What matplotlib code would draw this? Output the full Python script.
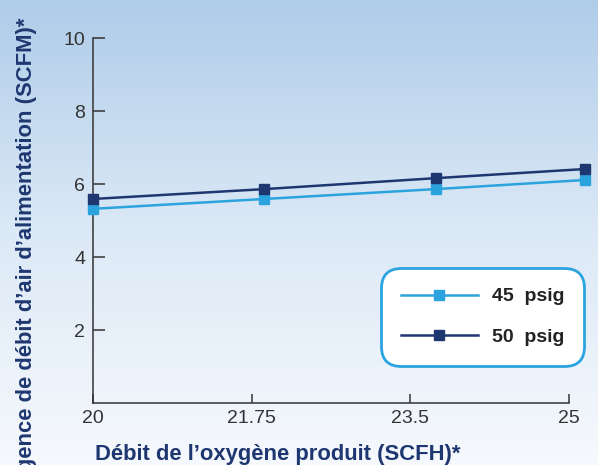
import matplotlib
matplotlib.use("Agg")
import matplotlib.pyplot as plt
import numpy as np
from matplotlib.colors import LinearSegmentedColormap

# tick labels on the x axis (equally spaced categories)
x_labels = ["20", "21.75", "23.5", "25"]
# where the measured points sit, in category units
x_pos = [0, 1.08, 2.16, 3.1]

psig45 = [5.32, 5.59, 5.86, 6.11]
psig50 = [5.59, 5.86, 6.16, 6.41]

light = "#2ba3de"
dark = "#1e3770"
grey = "#333333"

plt.rcParams['font.family'] = ['Liberation Sans', 'DejaVu Sans']

fig = plt.figure(figsize=[5.98, 4.65], dpi=100)

# background gradient, light blue at the top fading to white
bg = fig.add_axes([0, 0, 1, 1], zorder=-10)
grad = np.linspace(0, 1, 256).reshape(-1, 1)
cm = LinearSegmentedColormap.from_list("bg", ["#afcce9", "#dce9f6", "#f6f9fd"])
bg.imshow(grad, aspect="auto", cmap=cm, extent=[0, 1, 0, 1])
bg.axis("off")

ax = fig.add_axes([93/598, 1-403/465, (569-93)/598, (403-38)/465])
ax.patch.set_alpha(0)

ax.plot(x_pos, psig45, color=light, lw=1.8, marker="s", ms=6.5, clip_on=False,
        label="45  psig", zorder=3)
ax.plot(x_pos, psig50, color=dark, lw=1.8, marker="s", ms=6.5, clip_on=False,
        label="50  psig", zorder=3)

ax.set_xlim(0, 3)
ax.set_ylim(0, 10)
ax.set_xticks(range(len(x_labels)))
ax.set_xticklabels(x_labels)
ax.set_yticks([2, 4, 6, 8, 10])

for s in ["top", "right"]:
    ax.spines[s].set_visible(False)
for s in ["left", "bottom"]:
    ax.spines[s].set_color(grey)
    ax.spines[s].set_linewidth(1.1)

ax.tick_params(axis="y", direction="in", length=8.6, width=1.1, color=grey,
               labelsize=14, labelcolor=grey, pad=5.5)
ax.tick_params(axis="x", direction="in", length=6.5, width=1.1, color=grey,
               labelsize=14, labelcolor=grey, pad=5)

fig.text(95/598, 1-460/465, "Débit de l’oxygène produit (SCFH)*", ha="left", va="baseline",
         fontsize=15.8, fontweight="bold", color=dark)
fig.text(27/598, 1-261/465, "Exigence de débit d’air d’alimentation (SCFM)*", rotation=90,
         ha="center", va="center", fontsize=15.8, fontweight="bold", color=dark)

leg = ax.legend(loc="center", bbox_to_anchor=(482.5/598, 1-317/465),
                bbox_transform=fig.transFigure, fontsize=14, frameon=True,
                handlelength=4, labelspacing=1.2, borderpad=1.0, handletextpad=0.7,
                fancybox=True)
for t in leg.get_texts():
    t.set_fontweight("bold")
    t.set_color("#222222")
fr = leg.get_frame()
fr.set_edgecolor(light)
fr.set_linewidth(2.0)
fr.set_facecolor("white")
fr.set_alpha(1)
fr.set_boxstyle("round,pad=0,rounding_size=1.0")

fig.savefig("out.png", dpi=100)
